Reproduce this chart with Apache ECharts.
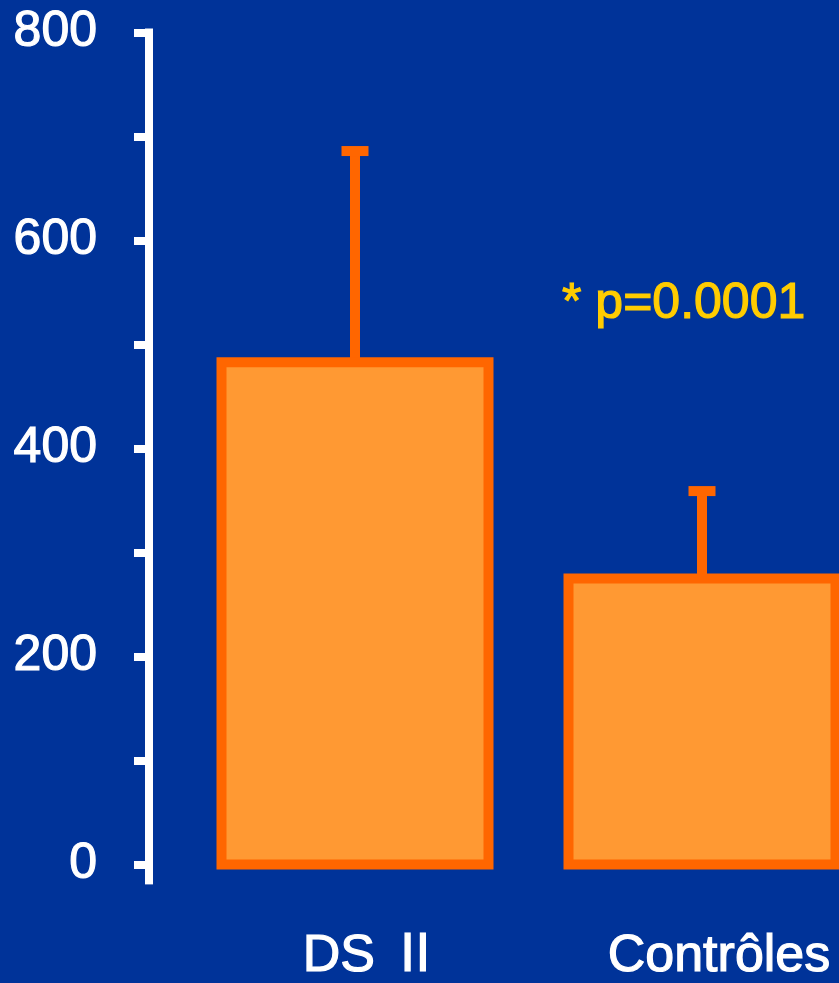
<!DOCTYPE html>
<html>
<head>
<meta charset="utf-8">
<script src="https://cdn.jsdelivr.net/npm/echarts@6/dist/echarts.min.js"></script>
<style>
html,body{margin:0;padding:0;background:#003399;}
#chart{width:839px;height:983px;}
</style>
</head>
<body>
<div id="chart"></div>
<script>
// Data
const categories = ['DS Ⅱ', 'Contrôles'];
const means = [483, 275];
const errorTops = [686, 359];
const yTickLabels = ['0', '200', '400', '600', '800'];
const annotationText = '* p=0.0001';

const FONT = '"Liberation Sans", Arial, "Noto Sans CJK JP", sans-serif';
const GRID_LEFT = 355, AXIS_OFFSET = 206;

const chart = echarts.init(document.getElementById('chart'), null, {renderer: 'canvas'});

const barData = categories.map((c, i) => [i, means[i]]);
const errorData = categories.map((c, i) => [i, means[i], errorTops[i]]);

const option = {
  backgroundColor: '#003399',
  animation: false,
  grid: {left: GRID_LEFT, top: 32.5, width: 347, height: 833.5, containLabel: false},
  xAxis: {
    type: 'category',
    data: categories,
    boundaryGap: false,
    axisLine: {show: false},
    axisTick: {show: false},
    axisLabel: {
      color: '#ffffff',
      fontSize: 52,
      fontFamily: FONT,
      margin: 92,
      verticalAlign: 'middle',
      padding: [0, 0, 0, 34],
      textBorderColor: '#ffffff',
      textBorderWidth: 1.2,
      interval: 0
    },
    splitLine: {show: false}
  },
  yAxis: {
    type: 'value',
    min: 0,
    max: 800,
    interval: 100,
    offset: AXIS_OFFSET,
    axisLine: {show: true, lineStyle: {color: '#ffffff', width: 8, cap: 'square'}},
    axisTick: {show: true, length: 15, lineStyle: {color: '#ffffff', width: 8}},
    axisLabel: {
      color: '#ffffff',
      fontSize: 50,
      fontFamily: FONT,
      margin: 52,
      textBorderColor: '#ffffff',
      textBorderWidth: 1.2,
      formatter: function (v) {
        const s = String(v);
        return yTickLabels.indexOf(s) >= 0 ? s : '';
      }
    },
    splitLine: {show: false}
  },
  series: [
    {
      type: 'custom',
      z: 1,
      clip: false,
      data: errorData,
      encode: {x: 0, y: 2},
      renderItem: function (params, api) {
        const base = api.coord([api.value(0), api.value(1)]);
        const top = api.coord([api.value(0), api.value(2)]);
        const x = base[0];
        return {
          type: 'group',
          children: [
            {type: 'line', shape: {x1: x, y1: base[1], x2: x, y2: top[1]},
             style: {stroke: '#FF6600', lineWidth: 10}},
            {type: 'rect', shape: {x: x - 13.5, y: top[1] - 5, width: 27, height: 10},
             style: {fill: '#FF6600'}}
          ]
        };
      }
    },
    {
      type: 'custom',
      z: 2,
      clip: false,
      data: barData,
      encode: {x: 0, y: 1},
      renderItem: function (params, api) {
        const top = api.coord([api.value(0), api.value(1)]);
        const bottom = api.coord([api.value(0), 0]);
        const w = 267;
        return {
          type: 'rect',
          shape: {x: top[0] - w / 2, y: top[1], width: w, height: bottom[1] - top[1]},
          style: {fill: '#FF9933', stroke: '#FF6600', lineWidth: 10}
        };
      }
    }
  ]
};

chart.setOption(option);

// extend axis line slightly below zero like the reference
const p0 = chart.convertToPixel({yAxisIndex: 0}, 0);
const axisX = GRID_LEFT - AXIS_OFFSET;
chart.setOption({
  graphic: [
    {type: 'line', shape: {x1: axisX, y1: p0, x2: axisX, y2: p0 + 20},
     style: {stroke: '#ffffff', lineWidth: 8}, z: 10},
    {type: 'text', x: 562, y: 304,
     style: {text: annotationText, fill: '#FFCC00', font: '50px ' + FONT,
             stroke: '#FFCC00', lineWidth: 1.2,
             textVerticalAlign: 'middle', verticalAlign: 'middle'}}
  ]
});
</script>
</body>
</html>
